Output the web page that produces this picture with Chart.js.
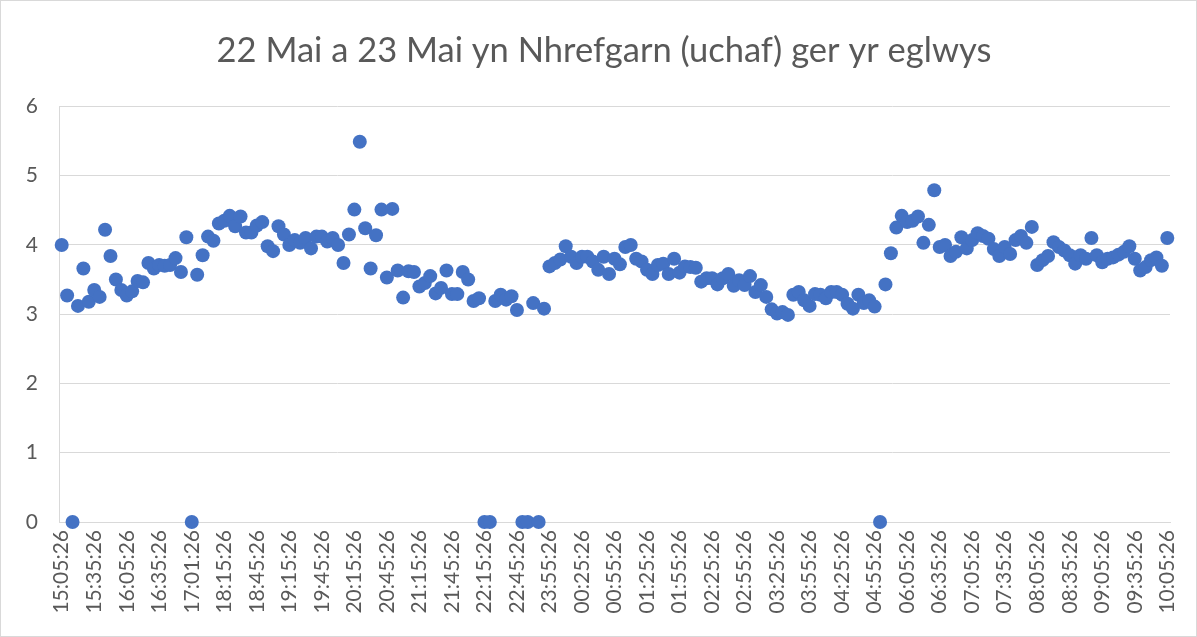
<!DOCTYPE html>
<html>
<head>
<meta charset="utf-8">
<script src="https://cdn.jsdelivr.net/npm/chart.js"></script>
<style>
  html, body { margin: 0; padding: 0; background: #fff; }
  #wrap { width: 1197px; height: 637px; position: relative; }
</style>
</head>
<body>
<div id="wrap"><canvas id="chart"></canvas></div>
<script>
// chart text
const chartTitle = '22 Mai a 23 Mai yn Nhrefgarn (uchaf) ger yr eglwys';

// every 6th reading gets a label on the axis
const labelEvery = 6;
const tickLabels = [
  '15:05:26', '15:35:26', '16:05:26', '16:35:26', '17:01:26', '18:15:26', '18:45:26',
  '19:15:26', '19:45:26', '20:15:26', '20:45:26', '21:15:26', '21:45:26', '22:15:26',
  '22:45:26', '23:55:26', '00:25:26', '00:55:26', '01:25:26', '01:55:26', '02:25:26',
  '02:55:26', '03:25:26', '03:55:26', '04:25:26', '04:55:26', '06:05:26', '06:35:26',
  '07:05:26', '07:35:26', '08:05:26', '08:35:26', '09:05:26', '09:35:26', '10:05:26'
];

// readings
const values = [
  4.0, 3.27, 0, 3.12, 3.66, 3.18, 3.35, 3.25, 4.22, 3.84,
  3.5, 3.35, 3.27, 3.33, 3.48, 3.46, 3.74, 3.66, 3.71, 3.7,
  3.71, 3.81, 3.61, 4.11, 0, 3.57, 3.85, 4.12, 4.06, 4.31,
  4.35, 4.42, 4.27, 4.41, 4.18, 4.18, 4.28, 4.33, 3.98, 3.91,
  4.27, 4.15, 4.0, 4.07, 4.03, 4.1, 3.95, 4.12, 4.12, 4.05,
  4.1, 4.0, 3.74, 4.15, 4.51, 5.49, 4.24, 3.66, 4.14, 4.51,
  3.53, 4.52, 3.63, 3.24, 3.62, 3.61, 3.4, 3.45, 3.55, 3.3,
  3.38, 3.63, 3.29, 3.29, 3.61, 3.5, 3.19, 3.23, 0, 0,
  3.19, 3.28, 3.21, 3.26, 3.06, 0, 0, 3.16, 0, 3.08,
  3.69, 3.74, 3.79, 3.98, 3.83, 3.74, 3.83, 3.83, 3.76, 3.64,
  3.83, 3.58, 3.8, 3.72, 3.97, 4.0, 3.8, 3.76, 3.64, 3.58,
  3.71, 3.73, 3.58, 3.8, 3.6, 3.69, 3.68, 3.67, 3.47, 3.52,
  3.52, 3.43, 3.52, 3.58, 3.41, 3.49, 3.42, 3.55, 3.32, 3.42,
  3.25, 3.07, 3.01, 3.03, 2.99, 3.28, 3.32, 3.2, 3.12, 3.29,
  3.28, 3.23, 3.32, 3.32, 3.28, 3.15, 3.08, 3.28, 3.16, 3.2,
  3.11, 0, 3.43, 3.88, 4.25, 4.42, 4.33, 4.35, 4.41, 4.03,
  4.29, 4.79, 3.97, 4.0, 3.84, 3.9, 4.11, 3.95, 4.07, 4.17,
  4.13, 4.09, 3.94, 3.84, 3.97, 3.87, 4.07, 4.13, 4.03, 4.26,
  3.71, 3.78, 3.84, 4.04, 3.97, 3.92, 3.85, 3.73, 3.85, 3.8,
  4.1, 3.85, 3.75, 3.8, 3.82, 3.86, 3.9, 3.98, 3.8, 3.63,
  3.68, 3.78, 3.82, 3.7, 4.1
];

const yMin = 0;
const yMax = 6;
const yStep = 1;

const categories = values.map((v, i) => i % labelEvery === 0 ? tickLabels[i / labelEvery] : '');

const textColor = '#595959';
const lineColor = '#d9d9d9';
const fontFamily = 'Lato, "Open Sans", sans-serif';

// thin frame round the whole chart, like the spreadsheet chart area
const chartBorder = {
  id: 'chartBorder',
  afterDraw(chart) {
    const { ctx, width, height } = chart;
    ctx.save();
    ctx.strokeStyle = lineColor;
    ctx.lineWidth = 1;
    ctx.strokeRect(0.5, 0.5, width - 1, height - 1);
    ctx.restore();
  }
};

new Chart(document.getElementById('chart'), {
  type: 'line',
  data: {
    labels: categories,
    datasets: [{
      data: values,
      showLine: false,
      pointRadius: 7,
      pointHoverRadius: 7,
      pointBackgroundColor: '#4472C4',
      pointBorderColor: '#4472C4',
      pointBorderWidth: 0,
      clip: false
    }]
  },
  options: {
    responsive: true,
    maintainAspectRatio: false,
    animation: false,
    // left padding nudges the centred title to the right; the x scale keeps the right margin
    layout: { padding: { top: 0, right: 0, bottom: 0, left: 11 } },
    plugins: {
      legend: { display: false },
      tooltip: { enabled: false },
      title: {
        display: true,
        text: chartTitle,
        color: textColor,
        font: { family: fontFamily, size: 34.5, weight: 'normal' },
        padding: { top: 30, bottom: 35 }
      }
    },
    scales: {
      x: {
        type: 'category',
        offset: true,
        grid: { display: false, drawTicks: false },
        border: { display: true, color: lineColor },
        ticks: {
          autoSkip: false,
          minRotation: 90,
          maxRotation: 90,
          color: textColor,
          font: { family: fontFamily, size: 21 },
          padding: 8
        },
        afterFit(scale) {
          scale.height = 115;
          scale.paddingRight = 27;
        }
      },
      y: {
        min: yMin,
        max: yMax,
        grid: { color: lineColor, drawTicks: false },
        border: { display: true, color: lineColor },
        ticks: {
          stepSize: yStep,
          color: textColor,
          font: { family: fontFamily, size: 21 },
          padding: 21
        },
        afterFit(scale) { scale.width = 48; }
      }
    }
  },
  plugins: [chartBorder]
});
</script>
</body>
</html>
